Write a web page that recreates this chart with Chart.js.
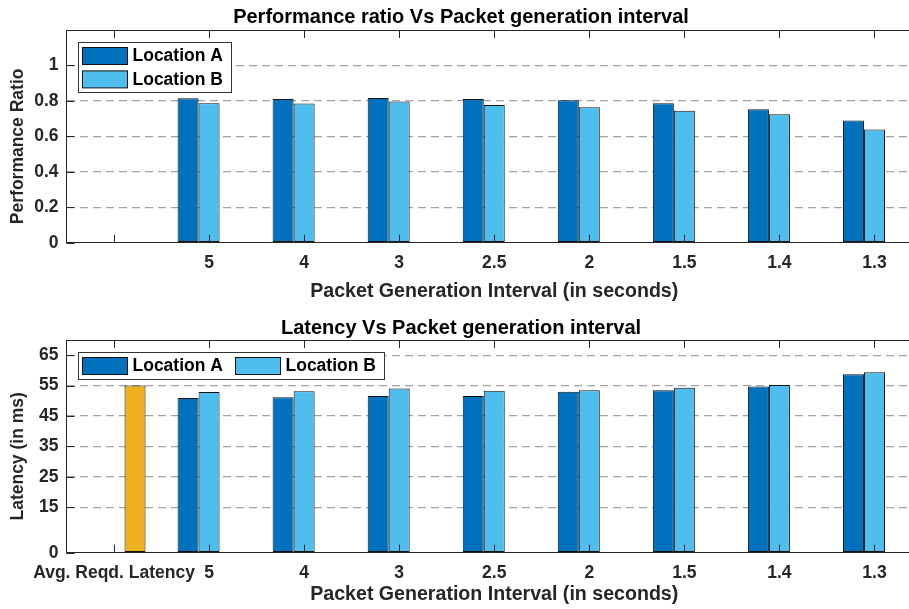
<!DOCTYPE html>
<html>
<head>
<meta charset="utf-8">
<script src="https://cdn.jsdelivr.net/npm/chart.js@4.4.0/dist/chart.umd.min.js"></script>
<style>
  html, body { margin: 0; padding: 0; background: #fff; width: 909px; height: 609px; overflow: hidden; }
  .panel { position: absolute; left: 0; }
</style>
</head>
<body>
<div class="panel" style="top:0"><canvas id="perfChart" width="922" height="305"></canvas></div>
<div class="panel" style="top:305px"><canvas id="latChart" width="922" height="304"></canvas></div>
<script>
// data
const intervals = ['5', '4', '3', '2.5', '2', '1.5', '1.4', '1.3'];
const perfLabels = [''].concat(intervals);
const latLabels = ['Avg. Reqd. Latency'].concat(intervals);

const perfLocA = [0, 0.815, 0.811, 0.816, 0.811, 0.803, 0.787, 0.753, 0.689];
const perfLocB = [0, 0.787, 0.785, 0.796, 0.777, 0.764, 0.745, 0.725, 0.639];
const perfReqd = [0, 0, 0, 0, 0, 0, 0, 0, 0];

const latLocA = [0, 50.95, 51.2, 51.6, 51.6, 53.0, 53.5, 54.7, 58.7];
const latLocB = [0, 52.9, 53.1, 54.0, 53.3, 53.5, 54.3, 55.2, 59.4];
const latReqd = [55, 0, 0, 0, 0, 0, 0, 0, 0];

const perfTicks = [0, 0.2, 0.4, 0.6, 0.8, 1];
const latTicks = [0, 15, 25, 35, 45, 55, 65];

const COL_A = '#0072BD';
const COL_B = '#4DBEEE';
const COL_C = '#EDB120';
const AXIS = '#262626';
const FONT = "'Liberation Sans', Arial, Helvetica, sans-serif";

// matlab style: tick marks inside the box + top frame line
const innerTicks = {
    id: 'innerTicks',
    afterDatasetsDraw(chart) {
        const { ctx, chartArea: a, scales: { x, y } } = chart;
        ctx.save();
        ctx.strokeStyle = AXIS;
        ctx.lineWidth = 1;
        ctx.beginPath();
        x.ticks.forEach((t, i) => {
            const px = Math.round(x.getPixelForTick(i)) + 0.5;
            ctx.moveTo(px, a.bottom); ctx.lineTo(px, a.bottom - 8);
            ctx.moveTo(px, a.top); ctx.lineTo(px, a.top + 8);
        });
        y.ticks.forEach(t => {
            const py = Math.round(y.getPixelForValue(t.value)) + 0.5;
            ctx.moveTo(a.left, py); ctx.lineTo(a.left + 8, py);
            ctx.moveTo(a.right, py); ctx.lineTo(a.right - 8, py);
        });
        ctx.moveTo(a.left, Math.round(a.top) + 0.5);
        ctx.lineTo(a.right, Math.round(a.top) + 0.5);
        ctx.stroke();
        ctx.restore();
    }
};

// y label sits a bit below the axes centre in the original, so draw it by hand
const yLabel = {
    id: 'yLabel',
    afterDraw(chart, args, opts) {
        const { ctx, chartArea: a } = chart;
        ctx.save();
        ctx.translate(18.5, (a.top + a.bottom) / 2 + 10);
        ctx.rotate(-Math.PI / 2);
        ctx.font = 'bold 17.5px ' + FONT;
        ctx.fillStyle = AXIS;
        ctx.textAlign = 'center';
        ctx.textBaseline = 'middle';
        ctx.fillText(opts.text, 0, 0);
        ctx.restore();
    }
};

// legend box drawn inside the axes (only the two location series)
const boxLegend = {
    id: 'boxLegend',
    afterDraw(chart, args, opts) {
        const { ctx } = chart;
        const items = chart.data.datasets.slice(0, 2);
        ctx.save();
        ctx.font = 'bold 17.5px ' + FONT;
        ctx.textBaseline = 'middle';
        ctx.fillStyle = '#fff';
        ctx.fillRect(opts.x, opts.y, opts.w, opts.h);
        ctx.strokeStyle = '#333';
        ctx.lineWidth = 1;
        ctx.strokeRect(opts.x + 0.5, opts.y + 0.5, opts.w, opts.h);
        items.forEach((ds, i) => {
            const sx = opts.x + 4.5 + (opts.horizontal ? i * opts.step : 0);
            const sy = opts.y + 5.5 + (opts.horizontal ? 0 : i * opts.step);
            ctx.fillStyle = ds.backgroundColor;
            ctx.fillRect(sx, sy, 45, 17);
            ctx.strokeStyle = '#111';
            ctx.strokeRect(sx, sy, 45, 17);
            ctx.fillStyle = '#000';
            ctx.fillText(ds.label, sx + 50, sy + 9);
        });
        ctx.restore();
    }
};

function makeDatasets(a, b, c) {
    const common = { borderColor: '#111', borderWidth: 1, borderSkipped: false,
                     categoryPercentage: 0.663, barPercentage: 1 };
    return [
        Object.assign({ label: 'Location A', data: a, backgroundColor: COL_A }, common),
        Object.assign({ label: 'Location B', data: b, backgroundColor: COL_B }, common),
        Object.assign({ label: 'Avg. Reqd. Latency', data: c, backgroundColor: COL_C }, common)
    ];
}

function makeOptions(cfg) {
    return {
        responsive: false,
        animation: false,
        layout: { padding: 0 },
        plugins: {
            legend: { display: false },
            tooltip: { enabled: false },
            title: {
                display: true, text: cfg.title, color: '#000',
                font: { family: FONT, size: 20, weight: 'bold' },
                padding: cfg.titlePad
            },
            boxLegend: cfg.legend,
            yLabel: { text: cfg.yTitle }
        },
        scales: {
            x: {
                offset: true,
                grid: { display: false, drawTicks: false },
                border: { color: AXIS, width: 1 },
                ticks: { color: AXIS, font: { family: FONT, size: 17.5, weight: 'bold' },
                         padding: 10, maxRotation: 0, minRotation: 0, autoSkip: false },
                title: { display: true, text: 'Packet Generation Interval (in seconds)', color: AXIS,
                         font: { family: FONT, size: 19.6, weight: 'bold' }, padding: { top: 0, bottom: cfg.xTitleBottom } },
                afterFit: s => { s.height = cfg.xHeight; }
            },
            y: {
                min: 0, max: cfg.yMax,
                afterBuildTicks: s => { s.ticks = cfg.yTicks.map(v => ({ value: v })); },
                grid: { color: c => c.tick && c.tick.value === 0 ? 'rgba(0,0,0,0)' : '#a3a3a3',
                        lineWidth: 1.2, drawTicks: false },
                border: { color: AXIS, width: 1, dash: [8, 5] },
                ticks: { color: AXIS, font: { family: FONT, size: 17.5, weight: 'bold' }, padding: 8,
                         callback: v => String(v) },
                title: { display: false },
                afterFit: s => { s.width = 66.5; }
            }
        }
    };
}

new Chart(document.getElementById('perfChart'), {
    type: 'bar',
    data: { labels: perfLabels, datasets: makeDatasets(perfLocA, perfLocB, perfReqd) },
    options: makeOptions({
        title: 'Performance ratio Vs Packet generation interval',
        titlePad: { top: 5.5, bottom: 0.5 },
        yTitle: 'Performance Ratio',
        yMax: 1.2, yTicks: perfTicks,
        xHeight: 62.3, xTitleBottom: 2,
        legend: { x: 78, y: 42, w: 153, h: 50, horizontal: false, step: 23.4 }
    }),
    plugins: [innerTicks, boxLegend, yLabel]
});

new Chart(document.getElementById('latChart'), {
    type: 'bar',
    data: { labels: latLabels, datasets: makeDatasets(latLocA, latLocB, latReqd) },
    options: makeOptions({
        title: 'Latency Vs Packet generation interval',
        titlePad: { top: 11, bottom: 0 },
        yTitle: 'Latency (in ms)',
        yMax: 70, yTicks: latTicks,
        xHeight: 56.3, xTitleBottom: 2.6,
        legend: { x: 78, y: 47, w: 306, h: 27, horizontal: true, step: 153 }
    }),
    plugins: [innerTicks, boxLegend, yLabel]
});
</script>
</body>
</html>
